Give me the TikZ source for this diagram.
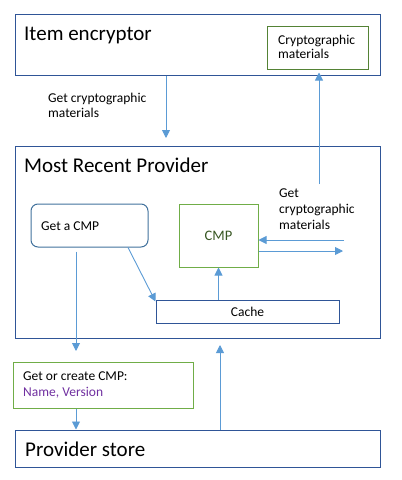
\documentclass[tikz,border=0pt]{standalone}
\usepackage{fontspec}
\setmainfont{Carlito}
\usetikzlibrary{arrows.meta, calc}

\definecolor{boxblue}{RGB}{47,85,151}
\definecolor{roundblue}{RGB}{65,113,156}
\definecolor{linkblue}{RGB}{91,155,213}
\definecolor{cmpgreen}{RGB}{112,173,71}
\definecolor{matgreen}{RGB}{84,130,53}
\definecolor{cmptext}{RGB}{56,87,35}
\definecolor{namepurple}{RGB}{112,48,160}

\begin{document}
\begin{tikzpicture}[x=1pt, y=-1pt,
    box/.style={draw=boxblue, line width=1pt, rectangle, inner sep=0pt},
    greenbox/.style={draw=cmpgreen, line width=1pt, rectangle, inner sep=0pt},
    titletext/.style={anchor=base west, inner sep=0pt, font=\fontsize{21}{24}\selectfont},
    smalltext/.style={inner sep=0pt, align=left, font=\fontsize{13.5}{16}\selectfont},
    arr/.style={draw=linkblue, line width=0.9pt, -{Triangle[length=8pt,width=8pt]}}]
    \useasboundingbox (0,0) rectangle (402,480);

    % boxes
    \node (enc) [box, minimum width=365pt, minimum height=61pt] at (197.5,44.5) {};
    \node (mat) [greenbox, draw=matgreen, minimum width=101pt, minimum height=43pt] at (317.5,47.5) {};
    \node (mrp) [box, minimum width=365pt, minimum height=192pt] at (197.5,242) {};
    \node (get) [box, draw=roundblue, rounded corners=7pt, minimum width=117pt, minimum height=43pt] at (89.5,225.5) {};
    \node (cmp) [greenbox, minimum width=79pt, minimum height=63pt] at (218.5,235.5) {};
    \node (cache) [box, minimum width=183pt, minimum height=23pt] at (247.5,311.5) {};
    \node (goc) [greenbox, minimum width=180pt, minimum height=46pt] at (103,385) {};
    \node (store) [box, minimum width=365pt, minimum height=37pt] at (197.5,448.5) {};

    % texts
    \node (enctxt) [titletext] at (24,40) {Item encryptor};
    \node (mrptxt) [titletext] at (24,172) {Most Recent Provider};
    \node (storetxt) [titletext] at (25,456) {Provider store};
    \node (mattxt) [smalltext, anchor=west, font=\fontsize{13.5}{14}\selectfont] at (278,46.5) {Cryptographic\\materials};
    \node (gettxt) [smalltext, anchor=west] at (41,226) {Get a CMP};
    \node (cmptxt) [smalltext, text=cmptext, font=\fontsize{14.5}{16}\selectfont] at (cmp.center) {CMP};
    \node (cachetxt) [smalltext] at (cache.center) {Cache};
    \node (goctxt) [smalltext, anchor=west] at (23,384.5) {Get or create CMP:\\\textcolor{namepurple}{Name, Version}};
    \node (lbl1) [smalltext, anchor=west, font=\fontsize{13.5}{15}\selectfont] at (48,105.5) {Get cryptographic\\materials};
    \node (lbl2) [smalltext, anchor=west] at (279,209.5) {Get\\cryptographic\\materials};

    % free ends
    \coordinate (a1) at (166,138);
    \coordinate (a2) at (319,184);
    \coordinate (a3) at (344,240);
    \coordinate (a4) at (343,251);
    \coordinate (a5) at (76,351);
    \coordinate (a6) at (220,345);

    % connectors
    \draw[arr] (enc.south -| a1) -- (a1);
    \draw[arr] (a2) -- ([yshift=-3pt]mat.south -| a2);
    \draw[arr] ([xshift=38.5pt]get.south) -- ([yshift=-2pt]cache.north west);
    \draw[arr] (cache.north -| cmp.south) -- (cmp.south);
    \draw[arr] (a3) -- (a3 -| cmp.east);
    \draw[arr] (a4 -| cmp.east) -- (a4);
    \draw[arr] ([yshift=-4pt]get.south -| a5) -- (a5);
    \draw[arr] (goc.south -| a5) -- (store.north -| a5);
    \draw[arr] (store.north -| a6) -- (a6);
\end{tikzpicture}
\end{document}
